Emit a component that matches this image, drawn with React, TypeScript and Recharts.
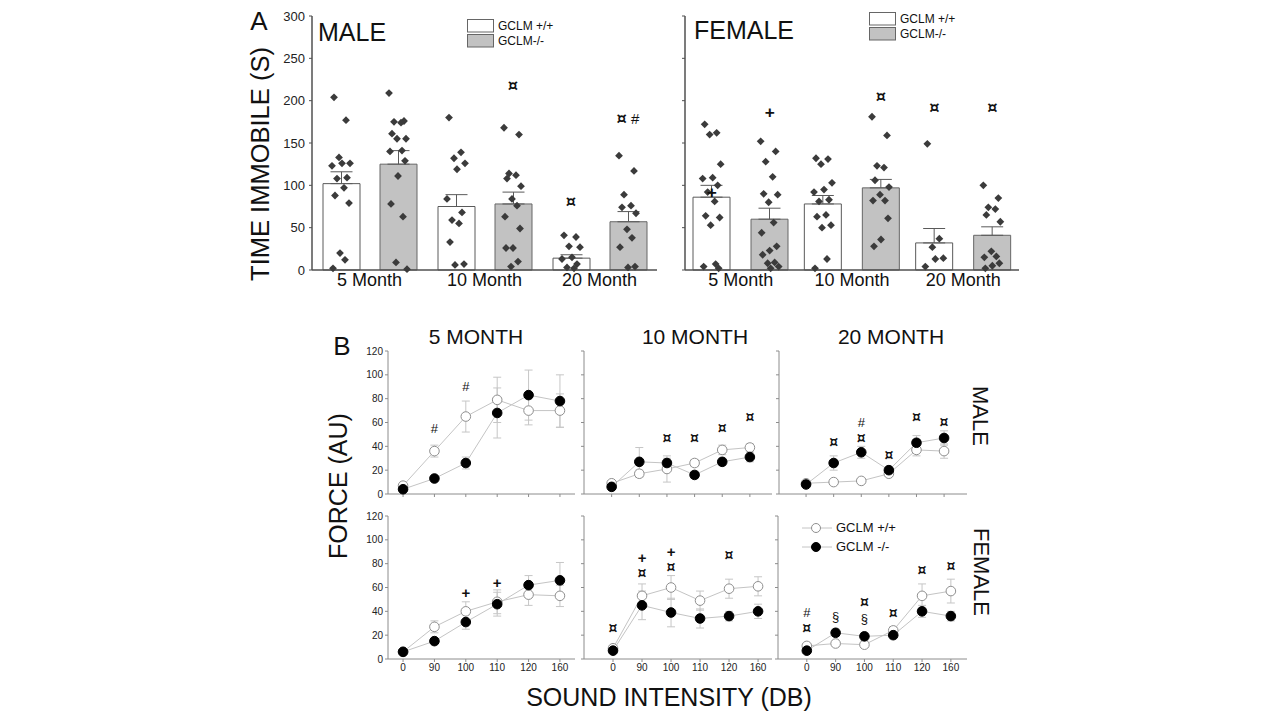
import React from 'react';
import { ComposedChart, Bar, Line, Scatter, XAxis, YAxis, ErrorBar, Legend } from 'recharts';

const FONT = '"Liberation Sans", Arial, Helvetica, sans-serif';

// ---------- Panel A: time immobile (tail suspension) ----------
const ageGroups = ['5 Month', '10 Month', '20 Month'];
const immobilityTicks = [0, 50, 100, 150, 200, 250, 300];
const barLegendWt = 'GCLM +/+';
const barLegendKo = 'GCLM-/-';

const maleWtMean = [102, 75, 14];
const maleWtSem = [14, 14, 4];
const maleKoMean = [125, 78, 57];
const maleKoSem = [16, 14, 12];

const femaleWtMean = [86, 78, 32];
const femaleWtSem = [14, 10, 17];
const femaleKoMean = [60, 97, 41];
const femaleKoSem = [13, 10, 10];

const maleWtPoints = [
  [204, 177, 133, 126, 126, 123, 109, 108, 97, 88, 79, 20, 12, 2],
  [180, 139, 132, 126, 119, 84, 68, 59, 55, 33, 7, 6],
  [41, 39, 28, 27, 15, 13, 7, 3, 2],
];
const maleKoPoints = [
  [209, 176, 175, 174, 161, 155, 155, 141, 140, 129, 111, 78, 63, 9, 1],
  [168, 160, 114, 112, 108, 99, 84, 76, 63, 49, 26, 26, 10, 4],
  [135, 117, 89, 76, 74, 67, 48, 38, 27, 4, 3],
];
const femaleWtPoints = [
  [172, 162, 160, 125, 109, 108, 100, 92, 81, 64, 62, 53, 7, 4, 2],
  [132, 131, 125, 103, 95, 92, 83, 81, 65, 63, 53, 50, 13, 2],
  [149, 37, 27, 14, 13, 4],
];
const femaleKoPoints = [
  [152, 140, 128, 110, 90, 89, 80, 56, 44, 28, 23, 18, 9, 8, 4, 2],
  [181, 159, 123, 121, 106, 98, 89, 82, 82, 61, 36, 28],
  [100, 85, 74, 72, 65, 57, 22, 16, 15, 8, 5, 2],
];

// significance symbols: group index, which bar, height (s), symbol
const maleImmMarks = [
  { g: 1, bar: 'ko', y: 219, text: '¤' },
  { g: 2, bar: 'wt', y: 82, text: '¤' },
  { g: 2, bar: 'ko', y: 180, text: '¤ #' },
];
const femaleImmMarks = [
  { g: 0, bar: 'wt', y: 92, text: '+' },
  { g: 0, bar: 'ko', y: 187, text: '+' },
  { g: 1, bar: 'ko', y: 205, text: '¤' },
  { g: 2, bar: 'wt', y: 193, text: '¤' },
  { g: 2, bar: 'ko', y: 193, text: '¤' },
];

// ---------- Panel B: startle force vs sound intensity ----------
const soundLevels = ['0', '90', '100', '110', '120', '160'];
const forceTicks = [0, 20, 40, 60, 80, 100, 120];
const lineLegendWt = 'GCLM +/+';
const lineLegendKo = 'GCLM -/-';

// stacked symbols are written top line first, separated by "\n"; y is the centre of the stack
const male5Wt = [7, 36, 65, 79, 70, 70];
const male5WtSem = [2, 5, 13, 19, 12, 14];
const male5Ko = [4, 13, 26, 68, 83, 78];
const male5KoSem = [2, 2, 5, 21, 21, 22];
const male5Marks = [
  { idx: 1, y: 55, text: '#' },
  { idx: 2, y: 91, text: '#' },
];

const male10Wt = [9, 17, 21, 26, 37, 39];
const male10WtSem = [2, 3, 11, 3, 4, 3];
const male10Ko = [6, 27, 26, 16, 27, 31];
const male10KoSem = [2, 12, 4, 3, 3, 4];
const male10Marks = [
  { idx: 2, y: 46.6, text: '¤' },
  { idx: 3, y: 46.6, text: '¤' },
  { idx: 4, y: 55, text: '¤' },
  { idx: 5, y: 64.7, text: '¤' },
];

const male20Wt = [9, 10, 11, 17, 37, 36];
const male20WtSem = [2, 2, 2, 2, 5, 6];
const male20Ko = [8, 26, 35, 20, 43, 47];
const male20KoSem = [2, 6, 5, 3, 6, 6];
const male20Marks = [
  { idx: 1, y: 43.3, text: '¤' },
  { idx: 2, y: 53.3, text: '#\n¤' },
  { idx: 3, y: 32.7, text: '¤' },
  { idx: 4, y: 64.7, text: '¤' },
  { idx: 5, y: 60.6, text: '¤' },
];

const female5Wt = [6, 27, 40, 48, 54, 53];
const female5WtSem = [1, 5, 8, 10, 9, 9];
const female5Ko = [6, 15, 31, 46, 62, 66];
const female5KoSem = [1, 2, 6, 10, 8, 15];
const female5Marks = [
  { idx: 2, y: 56, text: '+' },
  { idx: 3, y: 65, text: '+' },
];

const female10Wt = [9, 53, 60, 49, 59, 61];
const female10WtSem = [2, 10, 10, 8, 8, 8];
const female10Ko = [7, 45, 39, 34, 36, 40];
const female10KoSem = [2, 12, 12, 8, 4, 6];
const female10Marks = [
  { idx: 0, y: 25.7, text: '¤' },
  { idx: 1, y: 79, text: '+\n¤' },
  { idx: 2, y: 84, text: '+\n¤' },
  { idx: 4, y: 87.4, text: '¤' },
];

const female20Wt = [11, 13, 12, 24, 53, 57];
const female20WtSem = [2, 2, 2, 3, 10, 10];
const female20Ko = [7, 22, 19, 20, 40, 36];
const female20KoSem = [2, 3, 3, 3, 5, 4];
const female20Marks = [
  { idx: 0, y: 32.5, text: '#\n¤' },
  { idx: 1, y: 35.7, text: '§' },
  { idx: 2, y: 41, text: '¤\n§' },
  { idx: 3, y: 38.5, text: '¤' },
  { idx: 4, y: 74.8, text: '¤' },
  { idx: 5, y: 78.4, text: '¤' },
];

// horizontal spread of the individual-animal diamonds around each bar
const JITTER = [-0.7, 0.5, -0.2, 0.9, 0.1, -0.9, 0.6, -0.4, 0.3, -0.6, 0.8, -0.1, 0.4, -0.8, 0.7, 0.0];

const AXIS_A = '#505050';
const AXIS_B = '#8c8c8c';

const Diamond = (props: any) => {
  const { cx, cy } = props;
  if (cx == null || cy == null) return null;
  const r = 3.9;
  return (
    <polygon
      points={`${cx},${cy - r} ${cx + r},${cy} ${cx},${cy + r} ${cx - r},${cy}`}
      fill="#3b3b3b"
    />
  );
};

// significance symbols drawn at a data position (one or more stacked lines)
const markText = (size: number, lineGap: number) => (props: any) => {
  const { cx, cy, payload } = props;
  if (cx == null || cy == null) return null;
  const lines: string[] = String(payload.text).split('\n');
  const start = -((lines.length - 1) / 2) * lineGap;
  return (
    <text
      x={cx}
      y={cy}
      textAnchor="middle"
      dominantBaseline="central"
      fontSize={size}
      fontFamily={FONT}
      fill="#111"
    >
      {lines.map((ln, li) => (
        <tspan key={li} x={cx} y={cy + start + li * lineGap}>
          {Array.from(ln).map((c, i) => {
            if (c === '¤')
              return (
                <tspan key={i} fontSize={size * 1.08} fontWeight="bold" fontFamily='"DejaVu Sans", sans-serif'>
                  {c}
                </tspan>
              );
            if (c === '+')
              return (
                <tspan key={i} fontSize={size * 1.15} fontWeight="bold">
                  {c}
                </tspan>
              );
            return <tspan key={i}>{c}</tspan>;
          })}
        </tspan>
      ))}
    </text>
  );
};

const BarLegend = () => (
  <div style={{ fontFamily: FONT, fontSize: 12, color: '#111', lineHeight: 1 }}>
    {[
      { label: barLegendWt, fill: '#ffffff' },
      { label: barLegendKo, fill: '#c2c2c2' },
    ].map((it) => (
      <div key={it.label} style={{ display: 'flex', alignItems: 'center', height: 14.5 }}>
        <svg width={28} height={14}>
          <rect x={0.5} y={0.5} width={26} height={12.5} fill={it.fill} stroke="#666" />
        </svg>
        <span style={{ marginLeft: 3 }}>{it.label}</span>
      </div>
    ))}
  </div>
);

const LineLegend = () => (
  <div style={{ fontFamily: FONT, fontSize: 13, color: '#111', lineHeight: 1 }}>
    {[
      { label: lineLegendWt, filled: false },
      { label: lineLegendKo, filled: true },
    ].map((it) => (
      <div key={it.label} style={{ display: 'flex', alignItems: 'center', height: 19 }}>
        <svg width={30} height={12}>
          <line x1={0} y1={6} x2={30} y2={6} stroke="#c4c4c4" />
          <circle
            cx={14}
            cy={6}
            r={4.5}
            fill={it.filled ? '#000' : '#fff'}
            stroke={it.filled ? '#000' : '#8f8f8f'}
          />
        </svg>
        <span style={{ marginLeft: 4 }}>{it.label}</span>
      </div>
    ))}
  </div>
);

type ImmProps = {
  left: number;
  yAxisWidth: number;
  plotWidth: number;
  marginRight: number;
  barGap: number;
  wtMean: number[];
  wtSem: number[];
  koMean: number[];
  koSem: number[];
  wtPts: number[][];
  koPts: number[][];
  marks: { g: number; bar: string; y: number; text: string }[];
  showYLabels: boolean;
  legendLeft: number;
  legendTop: number;
};

function ImmobilityPanel(p: ImmProps) {
  const barSize = 37;
  const band = p.plotWidth / 3;
  const pad = (band - 2 * barSize - p.barGap) / 2;
  const wtC = (pad + barSize / 2) / band;
  const koC = (pad + 1.5 * barSize + p.barGap) / band;
  const spread = 10 / band;

  const data = ageGroups.map((g, i) => ({
    group: g,
    wt: p.wtMean[i],
    wtErr: [0, p.wtSem[i]],
    ko: p.koMean[i],
    koErr: [0, p.koSem[i]],
  }));

  const pts: { x: number; y: number }[] = [];
  p.wtPts.forEach((arr, g) =>
    arr.forEach((v, i) => pts.push({ x: g + wtC + JITTER[i % JITTER.length] * spread, y: v }))
  );
  p.koPts.forEach((arr, g) =>
    arr.forEach((v, i) => pts.push({ x: g + koC + JITTER[(i + 5) % JITTER.length] * spread, y: v }))
  );
  const marks = p.marks.map((m) => ({ x: m.g + (m.bar === 'wt' ? wtC : koC), y: m.y, text: m.text }));
  const width = p.yAxisWidth + p.plotWidth + p.marginRight;

  return (
    <div style={{ position: 'absolute', left: p.left, top: 0 }}>
      <ComposedChart
        width={width}
        height={300}
        data={data}
        margin={{ top: 16, right: p.marginRight, left: 0, bottom: 0 }}
        barGap={p.barGap}
        barSize={barSize}
      >
        <XAxis
          xAxisId="cat"
          dataKey="group"
          height={30}
          tickLine={false}
          tickSize={1}
          tickMargin={2}
          interval={0}
          axisLine={{ stroke: AXIS_A, strokeWidth: 1.5 }}
          tick={{ fontSize: 18, fill: '#111', fontFamily: FONT }}
        />
        <XAxis xAxisId="num" dataKey="x" type="number" domain={[0, 3]} allowDataOverflow hide />
        <YAxis
          width={p.yAxisWidth}
          domain={[0, 300]}
          ticks={immobilityTicks}
          interval={0}
          tickSize={3}
          tickMargin={4}
          axisLine={{ stroke: AXIS_A, strokeWidth: 1.5 }}
          tickLine={{ stroke: AXIS_A }}
          tick={{ fontSize: 13, fill: '#222', fontFamily: FONT }}
          tickFormatter={(v: number) => (p.showYLabels ? String(v) : '')}
        />
        <Bar xAxisId="cat" dataKey="wt" name={barLegendWt} fill="#ffffff" stroke="#5a5a5a" isAnimationActive={false}>
          <ErrorBar dataKey="wtErr" direction="y" width={11} stroke="#5a5a5a" strokeWidth={1} />
        </Bar>
        <Bar xAxisId="cat" dataKey="ko" name={barLegendKo} fill="#c2c2c2" stroke="#666" isAnimationActive={false}>
          <ErrorBar dataKey="koErr" direction="y" width={11} stroke="#5a5a5a" strokeWidth={1} />
        </Bar>
        <Scatter xAxisId="num" data={pts} dataKey="y" shape={Diamond} isAnimationActive={false} legendType="none" />
        <Scatter xAxisId="num" data={marks} dataKey="y" shape={markText(15, 16)} isAnimationActive={false} legendType="none" />
        <Legend
          layout="vertical"
          align="center"
          verticalAlign="middle"
          wrapperStyle={{ left: p.legendLeft, top: p.legendTop, width: 'auto', height: 'auto' }}
          content={() => <BarLegend />}
        />
      </ComposedChart>
    </div>
  );
}

type ForceProps = {
  wt: number[];
  wtSem: number[];
  ko: number[];
  koSem: number[];
  marks: { idx: number; y: number; text: string }[];
  plotLeft: number;
  plotTop: number;
  plotW: number;
  plotH: number;
  xDomain: [number, number];
  xLabels: boolean;
  yLabels: boolean;
  legend?: boolean;
};

function ForcePanel(p: ForceProps) {
  const YW = 40;
  const MT = 10;
  const XH = 22;
  const MR = 6;
  const data = soundLevels.map((lvl, i) => ({
    idx: i,
    level: lvl,
    wt: p.wt[i],
    wtErr: p.wtSem[i],
    ko: p.ko[i],
    koErr: p.koSem[i],
  }));
  return (
    <div style={{ position: 'absolute', left: p.plotLeft - YW, top: p.plotTop - MT }}>
      <ComposedChart
        width={YW + p.plotW + MR}
        height={MT + p.plotH + XH}
        data={data}
        margin={{ top: MT, right: MR, left: 0, bottom: 0 }}
      >
        <XAxis
          dataKey="idx"
          type="number"
          domain={p.xDomain}
          allowDataOverflow
          ticks={[0, 1, 2, 3, 4, 5]}
          interval={0}
          height={XH}
          tickSize={3}
          tickMargin={2}
          axisLine={{ stroke: AXIS_B }}
          tickLine={{ stroke: AXIS_B }}
          tick={{ fontSize: 10, fill: '#222', fontFamily: FONT }}
          tickFormatter={(v: number) => (p.xLabels ? soundLevels[v] : '')}
        />
        <YAxis
          width={YW}
          domain={[0, 120]}
          ticks={forceTicks}
          interval={0}
          tickSize={3}
          tickMargin={2}
          axisLine={{ stroke: AXIS_B }}
          tickLine={{ stroke: AXIS_B }}
          tick={{ fontSize: 10, fill: '#222', fontFamily: FONT }}
          tickFormatter={(v: number) => (p.yLabels ? String(v) : '')}
        />
        <Line
          dataKey="wt"
          name={lineLegendWt}
          stroke="#c4c4c4"
          strokeWidth={1}
          dot={{ r: 4.8, fill: '#fff', stroke: '#8f8f8f', strokeWidth: 1 }}
          isAnimationActive={false}
        >
          <ErrorBar dataKey="wtErr" direction="y" width={4} stroke="#c6c6c6" strokeWidth={1} />
        </Line>
        <Line
          dataKey="ko"
          name={lineLegendKo}
          stroke="#c4c4c4"
          strokeWidth={1}
          dot={{ r: 4.8, fill: '#000', stroke: '#000', strokeWidth: 1 }}
          isAnimationActive={false}
        >
          <ErrorBar dataKey="koErr" direction="y" width={4} stroke="#c6c6c6" strokeWidth={1} />
        </Line>
        <Scatter data={p.marks} dataKey="y" shape={markText(13, 16)} isAnimationActive={false} legendType="none" />
        {p.legend && (
          <Legend
            layout="vertical"
            align="center"
            verticalAlign="middle"
            wrapperStyle={{ left: 64, top: 12, width: 'auto', height: 'auto' }}
            content={() => <LineLegend />}
          />
        )}
      </ComposedChart>
    </div>
  );
}

const Label = ({
  x,
  y,
  size,
  rotate = 0,
  children,
}: {
  x: number;
  y: number;
  size: number;
  rotate?: number;
  children: React.ReactNode;
}) => (
  <div
    style={{
      position: 'absolute',
      left: x,
      top: y,
      transform: `translate(-50%, -50%) rotate(${rotate}deg)`,
      fontSize: size,
      lineHeight: 1,
      whiteSpace: 'nowrap',
      color: '#111',
    }}
  >
    {children}
  </div>
);

const TOP_ROW = { top: 351, h: 143 };
const BOTTOM_ROW = { top: 516, h: 143 };

export default function App() {
  return (
    <div
      style={{
        position: 'absolute',
        left: 0,
        top: 0,
        width: 1280,
        height: 720,
        background: '#ffffff',
        fontFamily: FONT,
        overflow: 'hidden',
      }}
    >
      {/* Panel A */}
      <ImmobilityPanel
        left={250}
        yAxisWidth={62}
        plotWidth={345}
        marginRight={13}
        barGap={20}
        wtMean={maleWtMean}
        wtSem={maleWtSem}
        koMean={maleKoMean}
        koSem={maleKoSem}
        wtPts={maleWtPoints}
        koPts={maleKoPoints}
        marks={maleImmMarks}
        showYLabels
        legendLeft={217}
        legendTop={19}
      />
      <ImmobilityPanel
        left={640}
        yAxisWidth={45}
        plotWidth={334}
        marginRight={11}
        barGap={21}
        wtMean={femaleWtMean}
        wtSem={femaleWtSem}
        koMean={femaleKoMean}
        koSem={femaleKoSem}
        wtPts={femaleWtPoints}
        koPts={femaleKoPoints}
        marks={femaleImmMarks}
        showYLabels={false}
        legendLeft={229}
        legendTop={12}
      />
      <Label x={259} y={21} size={26}>A</Label>
      <Label x={261} y={164} size={25.5} rotate={-90}>TIME IMMOBILE (S)</Label>
      <div style={{ position: 'absolute', left: 318, top: 20, fontSize: 25, lineHeight: 1, color: '#111' }}>MALE</div>
      <div style={{ position: 'absolute', left: 694, top: 18, fontSize: 25, lineHeight: 1, color: '#111' }}>FEMALE</div>

      {/* Panel B */}
      <Label x={342} y={346} size={26}>B</Label>
      <Label x={476} y={336} size={21}>5 MONTH</Label>
      <Label x={695} y={336} size={21}>10 MONTH</Label>
      <Label x={891} y={336} size={21}>20 MONTH</Label>
      <Label x={338} y={486} size={25} rotate={-90}>FORCE (AU)</Label>
      <Label x={669} y={697} size={25}>SOUND INTENSITY (DB)</Label>
      <Label x={980} y={416} size={22} rotate={90}>MALE</Label>
      <Label x={981} y={572} size={22} rotate={90}>FEMALE</Label>

      <ForcePanel
        wt={male5Wt} wtSem={male5WtSem} ko={male5Ko} koSem={male5KoSem} marks={male5Marks}
        plotLeft={388} plotTop={TOP_ROW.top} plotW={187} plotH={TOP_ROW.h}
        xDomain={[-0.48, 5.48]} xLabels={false} yLabels
      />
      <ForcePanel
        wt={male10Wt} wtSem={male10WtSem} ko={male10Ko} koSem={male10KoSem} marks={male10Marks}
        plotLeft={584} plotTop={TOP_ROW.top} plotW={188} plotH={TOP_ROW.h}
        xDomain={[-1.0, 5.8]} xLabels={false} yLabels={false}
      />
      <ForcePanel
        wt={male20Wt} wtSem={male20WtSem} ko={male20Ko} koSem={male20KoSem} marks={male20Marks}
        plotLeft={779} plotTop={TOP_ROW.top} plotW={188} plotH={TOP_ROW.h}
        xDomain={[-0.98, 5.83]} xLabels={false} yLabels={false}
      />
      <ForcePanel
        wt={female5Wt} wtSem={female5WtSem} ko={female5Ko} koSem={female5KoSem} marks={female5Marks}
        plotLeft={388} plotTop={BOTTOM_ROW.top} plotW={187} plotH={BOTTOM_ROW.h}
        xDomain={[-0.48, 5.48]} xLabels yLabels
      />
      <ForcePanel
        wt={female10Wt} wtSem={female10WtSem} ko={female10Ko} koSem={female10KoSem} marks={female10Marks}
        plotLeft={584} plotTop={BOTTOM_ROW.top} plotW={188} plotH={BOTTOM_ROW.h}
        xDomain={[-1.0, 5.48]} xLabels yLabels={false}
      />
      <ForcePanel
        wt={female20Wt} wtSem={female20WtSem} ko={female20Ko} koSem={female20KoSem} marks={female20Marks}
        plotLeft={778} plotTop={BOTTOM_ROW.top} plotW={189} plotH={BOTTOM_ROW.h}
        xDomain={[-1.0, 5.56]} xLabels yLabels={false} legend
      />
    </div>
  );
}
